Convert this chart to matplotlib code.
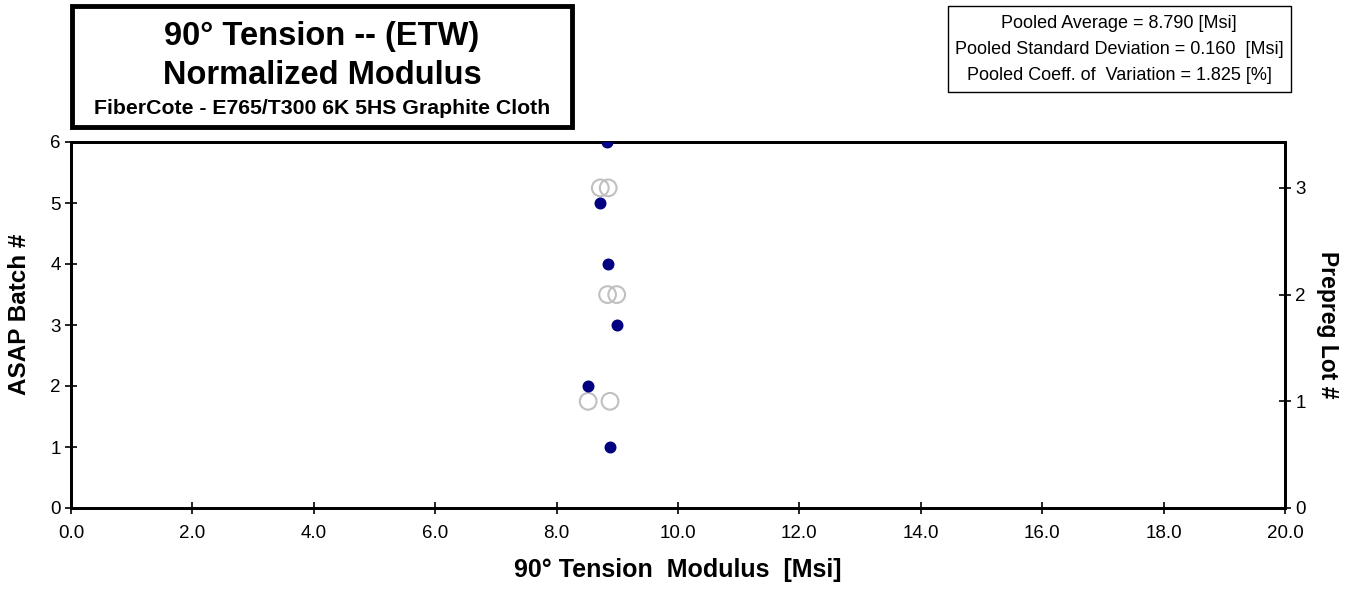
import matplotlib.pyplot as plt
from matplotlib.ticker import FormatStrFormatter

plt.rcParams['font.family'] = ['Liberation Sans', 'DejaVu Sans']

# Batch data (left axis)
batch_num = [1, 2, 3, 4, 5, 6]
batch_mod = [8.88, 8.52, 8.99, 8.85, 8.71, 8.83]

# Prepreg lot data (right axis)
lot_num = [1, 1, 2, 2, 3, 3]
lot_mod = [8.52, 8.88, 8.84, 8.99, 8.72, 8.85]

stats_lines = ["Pooled Average = 8.790 [Msi]",
               "Pooled Standard Deviation = 0.160  [Msi]",
               "Pooled Coeff. of  Variation = 1.825 [%]"]

fig = plt.figure(figsize=(13.62, 5.93), dpi=100)
ax = fig.add_axes([71/1362, 1 - 508/593, (1285 - 71)/1362, (508 - 142)/593])
ax2 = ax.twinx()

ax2.scatter(lot_mod, lot_num, s=145, facecolors='none', edgecolors='#c0c0c0', linewidths=1.5, zorder=2)
ax.scatter(batch_mod, batch_num, s=58, color='#000080', zorder=3)
ax.set_zorder(ax2.get_zorder() + 1)
ax.patch.set_visible(False)

ax.set_xlim(0, 20)
ax.set_ylim(0, 6)
ax2.set_ylim(0, 3.43)
ax.set_xticks([0, 2, 4, 6, 8, 10, 12, 14, 16, 18, 20])
ax.xaxis.set_major_formatter(FormatStrFormatter('%.1f'))
ax.set_yticks(range(0, 7))
ax2.set_yticks([0, 1, 2, 3])

for a in (ax, ax2):
    for sp in a.spines.values():
        sp.set_linewidth(2)
    a.tick_params(direction='inout', length=8, width=1.2, labelsize=13.5)
ax.tick_params(axis='x', pad=8)

ax.set_xlabel('90° Tension  Modulus  [Msi]', fontsize=18, fontweight='bold', labelpad=12)
ax.set_ylabel('ASAP Batch #', fontsize=17.5, fontweight='bold')
ax.yaxis.set_label_coords(-0.033, 0.53)
ax2.set_ylabel('Prepreg Lot #', fontsize=16.5, fontweight='bold', rotation=270, labelpad=24)

# title box
fig.patches.append(plt.Rectangle((72/1362, 1 - 127/593), (572 - 72)/1362, (127 - 6)/593,
                                 transform=fig.transFigure, fill=False, edgecolor='black',
                                 linewidth=3.5, zorder=5))
fig.text(322/1362, 1 - 37/593, '90° Tension -- (ETW)', ha='center', va='center', fontsize=23.5, fontweight='bold')
fig.text(322/1362, 1 - 75/593, 'Normalized Modulus', ha='center', va='center', fontsize=23.5, fontweight='bold')
fig.text(322/1362, 1 - 108/593, 'FiberCote - E765/T300 6K 5HS Graphite Cloth', ha='center', va='center',
         fontsize=15.3, fontweight='bold')

# stats box
fig.patches.append(plt.Rectangle((948/1362, 1 - 92/593), (1291 - 948)/1362, (92 - 6)/593,
                                 transform=fig.transFigure, fill=False, edgecolor='black',
                                 linewidth=1, zorder=5))
for i, line in enumerate(stats_lines):
    fig.text(1119/1362, 1 - (24 + 25.5 * i)/593, line, ha='center', va='center', fontsize=13)

fig.savefig('out.png', dpi=100)
